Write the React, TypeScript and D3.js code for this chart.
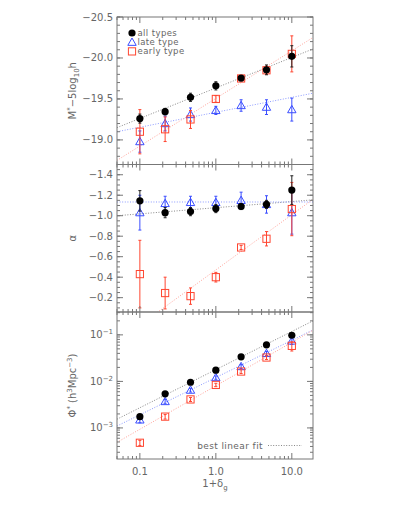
import React from 'react'
import * as d3 from 'd3'

// 1 + delta_g bins
const density = [0.1, 0.215, 0.464, 1.0, 2.15, 4.64, 10.0];
const xEnds = [0.05, 19];

// M* - 5 log h
const allM = [-19.26, -19.345, -19.52, -19.66, -19.755, -19.855, -20.02];
const allMErr = [0.055, 0.04, 0.05, 0.05, 0.03, 0.06, 0.13];
const lateM = [-18.98, -19.2, -19.31, -19.36, -19.42, -19.4, -19.37];
const lateMErr = [0.13, 0.09, 0.08, 0.05, 0.07, 0.09, 0.14];
const earlyM = [-19.1, -19.13, -19.25, -19.5, -19.75, -19.85, -20.05];
const earlyMErr = [0.27, 0.15, 0.11, 0.04, 0.02, 0.05, 0.22];
const fitMAll = [-19.15, -20.11];
const fitMLate = [-19.1, -19.57];
const fitMEarly = [-18.75, -20.25];

// alpha
const allA = [-1.145, -1.03, -1.04, -1.07, -1.09, -1.11, -1.25];
const allAErr = [0.1, 0.05, 0.04, 0.04, 0.03, 0.04, 0.14];
const lateA = [-1.03, -1.12, -1.13, -1.13, -1.15, -1.11, -1.03];
const lateAErr = [0.17, 0.07, 0.06, 0.06, 0.08, 0.085, 0.21];
const earlyA = [-0.43, -0.245, -0.215, -0.4, -0.69, -0.775, -1.065];
const earlyAErr = [0.33, 0.155, 0.08, 0.047, 0.02, 0.07, 0.26];
const fitAAll = [-1.0, -1.155];
const fitALate = [-1.134, -1.134];
const fitAEarly = [0.23, -1.16];

// phi*
const allP = [0.00175, 0.0054, 0.0096, 0.0174, 0.0337, 0.061, 0.098];
const allPErr = [0.0002, 0.0004, 0.0007, 0.001, 0.002, 0.004, 0.01];
const lateP = [0.00149, 0.0037, 0.0065, 0.0121, 0.0209, 0.04, 0.074];
const latePErr = [0.0002, 0.0004, 0.0006, 0.001, 0.002, 0.004, 0.012];
const earlyP = [0.00048, 0.00175, 0.0041, 0.0084, 0.0163, 0.0326, 0.058];
const earlyPErr = [0.00006, 0.0002, 0.0004, 0.0007, 0.0015, 0.003, 0.013];
const fitPAll = [0.00154, 0.2];
const fitPLate = [0.0011, 0.128];
const fitPEarly = [0.00049, 0.126];

const mTicks = [-20.5, -20.0, -19.5, -19.0];
const aTicks = [-1.4, -1.2, -1.0, -0.8, -0.6, -0.4, -0.2];
const pTicks = [0.1, 0.01, 0.001];
const xTickLabels = ['0.1', '1.0', '10.0'];

const legend = ['all types', 'late type', 'early type'];

const W = 399, H = 516;
const L = 117, R = 313;
const tops = [17, 164.5, 312, 459];
const BLACK = '#000', BLUE = '#3a4dff', RED = '#ff4530';
const FIT = ['#888', '#8c9aff', '#ffa39a'];
const AX = '#777';
const TXT = '#666';
const FONT = 'DejaVu Sans, sans-serif';

const x = d3.scaleLog().domain(xEnds).range([L, R]);

function Marker({ kind, cx, cy }: { kind: number; cx: number; cy: number }) {
  if (kind === 0) return <circle cx={cx} cy={cy} r={3.6} fill={BLACK} />;
  if (kind === 1) {
    const s = 4.2;
    return <path d={`M${cx},${cy - s}L${cx + s},${cy + s * 0.75}L${cx - s},${cy + s * 0.75}Z`} fill="none" stroke={BLUE} strokeWidth={1} />;
  }
  return <rect x={cx - 3.6} y={cy - 3.6} width={7.2} height={7.2} fill="none" stroke={RED} strokeWidth={1} />;
}

function Series({ vals, errs, y, kind }: any) {
  const ecol = ['#222', BLUE, RED][kind];
  return (
    <g>
      {vals.map((v: number, i: number) => {
        const cx = x(density[i]);
        const y0 = y(v - errs[i]), y1 = y(v + errs[i]);
        return (
          <g key={i}>
            <line x1={cx} x2={cx} y1={y0} y2={y1} stroke={ecol} strokeWidth={1} />
            <line x1={cx - 1.5} x2={cx + 1.5} y1={y0} y2={y0} stroke={ecol} strokeWidth={1} />
            <line x1={cx - 1.5} x2={cx + 1.5} y1={y1} y2={y1} stroke={ecol} strokeWidth={1} />
            <Marker kind={kind} cx={cx} cy={y(v)} />
          </g>
        );
      })}
    </g>
  );
}

function Fit({ ends, y, i, clip }: any) {
  const line = d3.line<number>().x((_, k) => x(xEnds[k])).y(d => y(d));
  return <path d={line(ends) || ''} fill="none" stroke={FIT[i]} strokeWidth={1} strokeDasharray="1,1.6" clipPath={`url(#${clip})`} />;
}

function Frame({ top, bottom, y, major, minor, labels }: any) {
  const xMinor: number[] = [];
  for (let e = -2; e <= 1; e++) for (let m = 1; m <= 9; m++) {
    const v = m * Math.pow(10, e);
    if (v >= xEnds[0] && v <= xEnds[1]) xMinor.push(v);
  }
  return (
    <g>
      <rect x={L} y={top} width={R - L} height={bottom - top} fill="none" stroke={AX} strokeWidth={1} />
      {xMinor.map((v, i) => {
        const big = [0.1, 1, 10].includes(+v.toPrecision(3));
        const len = big ? 6 : 3;
        return (
          <g key={i}>
            <line x1={x(v)} x2={x(v)} y1={bottom} y2={bottom - len} stroke={AX} />
            <line x1={x(v)} x2={x(v)} y1={top} y2={top + len} stroke={AX} />
          </g>
        );
      })}
      {minor.map((v: number, i: number) => (
        <g key={'m' + i}>
          <line x1={L} x2={L + 3} y1={y(v)} y2={y(v)} stroke={AX} />
          <line x1={R} x2={R - 3} y1={y(v)} y2={y(v)} stroke={AX} />
        </g>
      ))}
      {major.map((v: number, i: number) => (
        <g key={'M' + i}>
          <line x1={L} x2={L + 6} y1={y(v)} y2={y(v)} stroke={AX} />
          <line x1={R} x2={R - 6} y1={y(v)} y2={y(v)} stroke={AX} />
          <text x={L - 4} y={y(v) + 3.5} textAnchor="end" fontSize={10} fill={TXT} fontFamily={FONT}>{labels[i]}</text>
        </g>
      ))}
    </g>
  );
}

export default function App() {
  const yM = d3.scaleLinear().domain([-20.5, -18.7]).range([tops[0], tops[1]]);
  const yA = d3.scaleLinear().domain([-1.5, -0.06]).range([tops[1], tops[2]]);
  const yP = d3.scaleLog().domain([0.31, 2.15e-4]).range([tops[2], tops[3]]);

  const mMinor = d3.range(-20.5, -18.69, 0.1);
  const aMinor = d3.range(-1.5, -0.05, 0.05);
  const pMinor: number[] = [];
  for (let e = -4; e <= -1; e++) for (let m = 1; m <= 9; m++) {
    const v = m * Math.pow(10, e);
    if (v >= 2.15e-4 && v <= 0.31) pMinor.push(v);
  }

  const mLabels = mTicks.map(v => '\u2212' + Math.abs(v).toFixed(1));
  const aLabels = aTicks.map(v => '\u2212' + Math.abs(v).toFixed(1));
  const pLabels = pTicks.map(v => (
    <tspan>10<tspan dy={-4} fontSize={7}>{'\u2212' + Math.round(-Math.log10(v))}</tspan></tspan>
  ));

  return (
    <svg width={W} height={H} style={{ position: 'absolute', left: 0, top: 0, background: '#fff' }}>
      <defs>
        {[0, 1, 2].map(i => (
          <clipPath id={'c' + i} key={i}>
            <rect x={L} y={tops[i]} width={R - L} height={tops[i + 1] - tops[i]} />
          </clipPath>
        ))}
      </defs>

      {/* top: M* */}
      <Fit ends={fitMAll} y={yM} i={0} clip="c0" />
      <Fit ends={fitMLate} y={yM} i={1} clip="c0" />
      <Fit ends={fitMEarly} y={yM} i={2} clip="c0" />
      <Series vals={lateM} errs={lateMErr} y={yM} kind={1} />
      <Series vals={earlyM} errs={earlyMErr} y={yM} kind={2} />
      <Series vals={allM} errs={allMErr} y={yM} kind={0} />
      <Frame top={tops[0]} bottom={tops[1]} y={yM} major={mTicks} minor={mMinor} labels={mLabels} />
      {legend.map((t, i) => (
        <g key={t}>
          <Marker kind={i} cx={132} cy={33 + i * 9.2} />
          <text x={137.5} y={36 + i * 9.2} fontSize={8.5} letterSpacing={0.4} fill={TXT} fontFamily={FONT}>{t}</text>
        </g>
      ))}

      {/* middle: alpha */}
      <Fit ends={fitAAll} y={yA} i={0} clip="c1" />
      <Fit ends={fitALate} y={yA} i={1} clip="c1" />
      <Fit ends={fitAEarly} y={yA} i={2} clip="c1" />
      <Series vals={lateA} errs={lateAErr} y={yA} kind={1} />
      <Series vals={earlyA} errs={earlyAErr} y={yA} kind={2} />
      <Series vals={allA} errs={allAErr} y={yA} kind={0} />
      <Frame top={tops[1]} bottom={tops[2]} y={yA} major={aTicks} minor={aMinor} labels={aLabels} />

      {/* bottom: phi* */}
      <Fit ends={fitPAll} y={yP} i={0} clip="c2" />
      <Fit ends={fitPLate} y={yP} i={1} clip="c2" />
      <Fit ends={fitPEarly} y={yP} i={2} clip="c2" />
      <Series vals={lateP} errs={latePErr} y={yP} kind={1} />
      <Series vals={earlyP} errs={earlyPErr} y={yP} kind={2} />
      <Series vals={allP} errs={allPErr} y={yP} kind={0} />
      <Frame top={tops[2]} bottom={tops[3]} y={yP} major={pTicks} minor={pMinor} labels={pLabels} />
      <text x={263} y={449} textAnchor="end" fontSize={9} letterSpacing={0.4} fill={TXT} fontFamily={FONT}>best linear fit</text>
      <line x1={268} x2={302} y1={445.5} y2={445.5} stroke={FIT[0]} strokeDasharray="1,1.6" />

      {/* x axis labels */}
      {[0.1, 1, 10].map((v, i) => (
        <text key={v} x={x(v)} y={475} textAnchor="middle" fontSize={10} fill={TXT} fontFamily={FONT}>{xTickLabels[i]}</text>
      ))}
      <text x={215} y={487} textAnchor="middle" fontSize={10} fill={TXT} fontFamily={FONT}>
        1+δ<tspan dy={3} fontSize={7}>g</tspan>
      </text>

      {/* y axis titles */}
      <text transform={`translate(76,${(tops[0] + tops[1]) / 2}) rotate(-90)`} textAnchor="middle" fontSize={10} fill={TXT} fontFamily={FONT}>
        M<tspan dy={-4} fontSize={7}>*</tspan><tspan dy={4}>−5log</tspan><tspan dy={3} fontSize={7}>10</tspan><tspan dy={-3}>h</tspan>
      </text>
      <text transform={`translate(76,${(tops[1] + tops[2]) / 2}) rotate(-90)`} textAnchor="middle" fontSize={10} fill={TXT} fontFamily={FONT}>α</text>
      <text transform={`translate(76,${(tops[2] + tops[3]) / 2}) rotate(-90)`} textAnchor="middle" fontSize={10} fill={TXT} fontFamily={FONT}>
        Φ<tspan dy={-4} fontSize={7}>*</tspan><tspan dy={4}> (h</tspan><tspan dy={-4} fontSize={7}>3</tspan><tspan dy={4}>Mpc</tspan><tspan dy={-4} fontSize={7}>−3</tspan><tspan dy={4}>)</tspan>
      </text>
    </svg>
  );
}
